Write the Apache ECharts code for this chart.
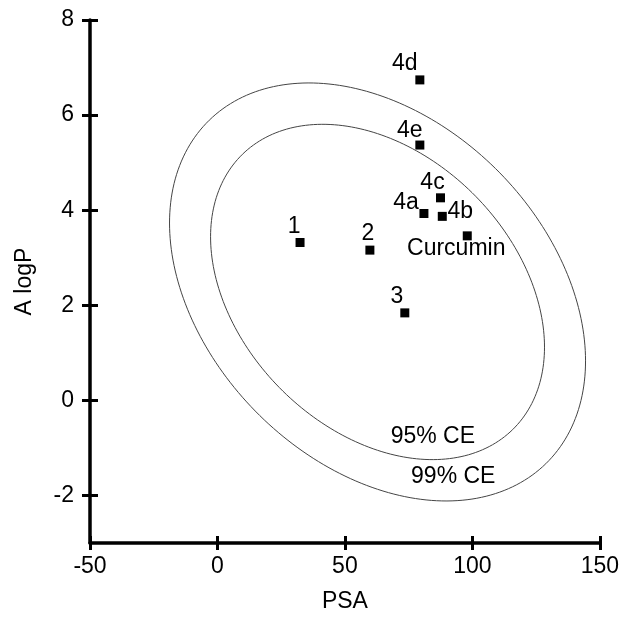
<!DOCTYPE html>
<html>
<head>
<meta charset="utf-8">
<script src="https://cdn.jsdelivr.net/npm/echarts@6/dist/echarts.min.js"></script>
<style>
  html, body { margin: 0; padding: 0; background: #fff; }
  #chart { width: 622px; height: 618px; }
</style>
</head>
<body>
<div id="chart"></div>
<script>
// compounds: name, PSA, A logP
var names = ['4d', '4e', '4c', '4a', '4b', 'Curcumin', '1', '2', '3'];
var psa   = [79.4, 79.4, 87.5, 81.0, 88.2, 98.0, 32.4, 59.8, 73.5];
var alogp = [6.74, 5.37, 4.26, 3.93, 3.87, 3.46, 3.32, 3.16, 1.84];

var xTicks = [-50, 0, 50, 100, 150];
var yTicks = [-2, 0, 2, 4, 6, 8];

// confidence ellipses: center, and x = cx + a*cos t, y = cy + b*cos t + c*sin t
var ellipseCenter = [62.8, 2.28];
var ellipse95 = [65.5, -1.16, 3.33];
var ellipse99 = [81.6, -1.45, 4.15];
var ellipseText = ['95% CE', '99% CE'];
var ellipseTextPos = [[84.5, -0.77], [92.5, -1.6]];

// label placement (pixel offsets from marker centre)
var labelOffsets = {
  '4d': [-15, -16], '4e': [-10, -14], '4c': [-8, -15], '4a': [-18, -11],
  '4b': [18, -5], 'Curcumin': [-11, 13], '1': [-6, -16], '2': [-2, -16], '3': [-8, -16]
};

var FONT = 'Liberation Sans, Arial, sans-serif';

function ellipsePoints(p) {
  var pts = [];
  for (var i = 0; i <= 240; i++) {
    var t = i / 240 * Math.PI * 2;
    pts.push([ellipseCenter[0] + p[0] * Math.cos(t),
              ellipseCenter[1] + p[1] * Math.cos(t) + p[2] * Math.sin(t)]);
  }
  return pts;
}

var points = names.map(function (n, i) {
  return {
    name: n,
    value: [psa[i], alogp[i]],
    label: { offset: labelOffsets[n] }
  };
});

var myChart = echarts.init(document.getElementById('chart'), null, { renderer: 'canvas' });

var axisText = { color: '#000', fontSize: 23, fontFamily: FONT };

myChart.setOption({
  animation: false,
  grid: { left: 90, right: 22, top: 20, bottom: 69 },
  xAxis: [{
    type: 'value', min: -50, max: 150, interval: 50,
    name: 'PSA', nameLocation: 'middle', nameGap: 47, nameTextStyle: axisText,
    axisLine: { onZero: false, lineStyle: { color: '#000', width: 3.5 } },
    axisTick: { length: 7, lineStyle: { color: '#000', width: 3 } },
    axisLabel: Object.assign({ margin: 12 }, axisText),
    splitLine: { show: false }
  }, {
    type: 'value', min: -50, max: 150, interval: 50, position: 'bottom',
    axisLine: { show: false, onZero: false },
    axisTick: { inside: true, length: 7, lineStyle: { color: '#000', width: 3 } },
    axisLabel: { show: false },
    splitLine: { show: false }
  }],
  yAxis: [{
    type: 'value', min: -3, max: 8,
    name: 'A logP', nameLocation: 'middle', nameGap: 54, nameTextStyle: axisText,
    axisLine: { onZero: false, lineStyle: { color: '#000', width: 3.5 } },
    axisTick: { length: 8, customValues: yTicks, lineStyle: { color: '#000', width: 3 } },
    axisLabel: Object.assign({ margin: 16, customValues: yTicks }, axisText),
    splitLine: { show: false }
  }, {
    type: 'value', min: -3, max: 8, position: 'left',
    axisLine: { show: false, onZero: false },
    axisTick: { inside: true, length: 8, customValues: yTicks, lineStyle: { color: '#000', width: 3 } },
    axisLabel: { show: false },
    splitLine: { show: false }
  }],
  series: [
    {
      type: 'line', data: ellipsePoints(ellipse99), showSymbol: false, silent: true,
      lineStyle: { color: '#444', width: 1 }
    },
    {
      type: 'line', data: ellipsePoints(ellipse95), showSymbol: false, silent: true,
      lineStyle: { color: '#444', width: 1 }
    },
    {
      type: 'scatter', symbol: 'rect', symbolSize: 0,
      itemStyle: { opacity: 1 },
      data: ellipseText.map(function (t, i) { return { name: t, value: ellipseTextPos[i] }; }),
      label: {
        show: true, position: 'inside', formatter: '{b}',
        color: '#000', fontSize: 23, fontFamily: FONT
      }
    },
    {
      type: 'scatter', symbol: 'rect', symbolSize: 9,
      itemStyle: { color: '#000', opacity: 1 },
      data: points,
      label: {
        show: true, position: 'inside', formatter: '{b}',
        color: '#000', fontSize: 23, fontFamily: FONT
      }
    }
  ]
});

window.addEventListener('resize', myChart.resize);
</script>
</body>
</html>
